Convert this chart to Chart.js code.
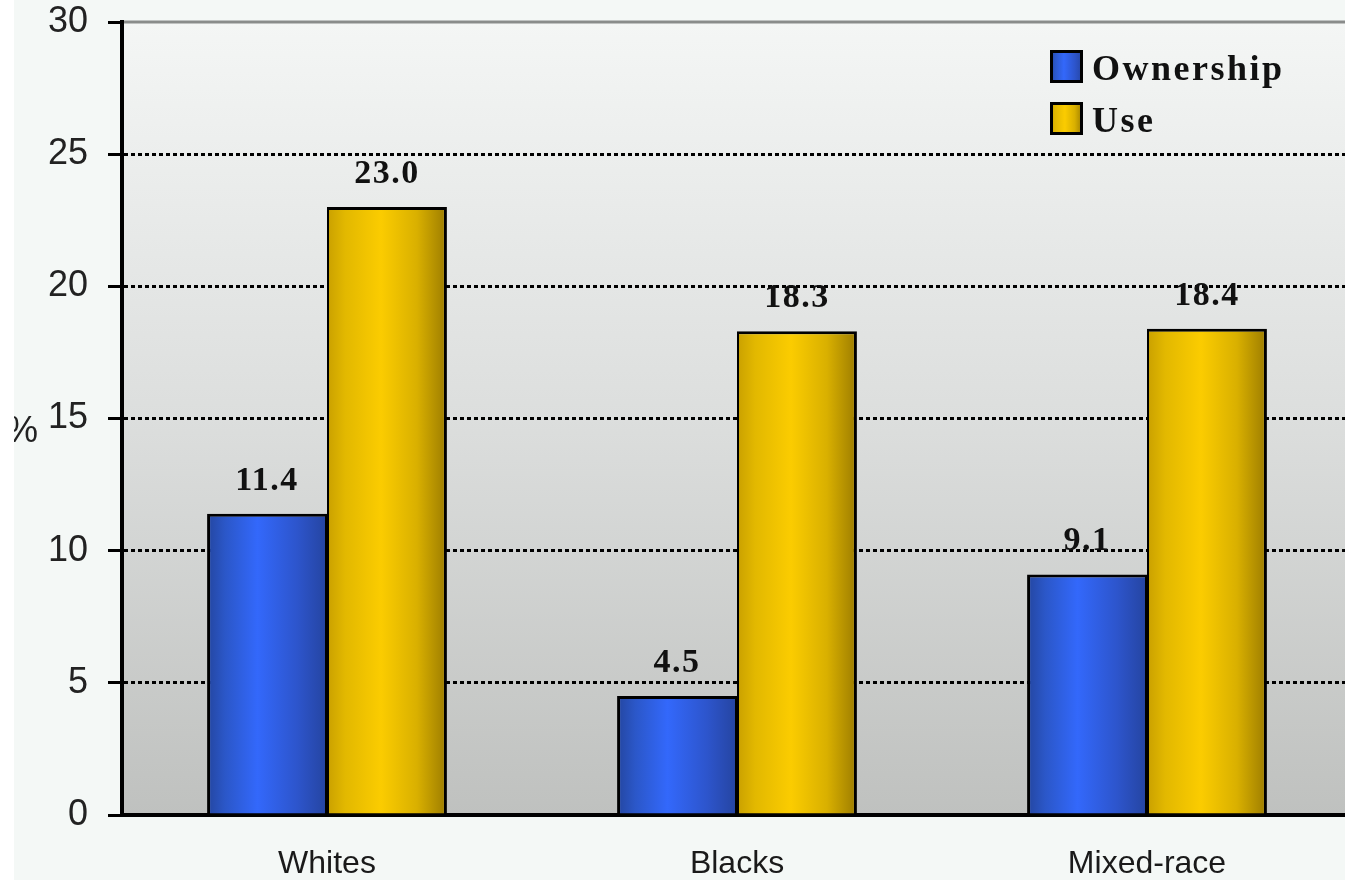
<!DOCTYPE html>
<html>
<head>
<meta charset="utf-8">
<script src="https://cdn.jsdelivr.net/npm/chart.js@4.4.1/dist/chart.umd.min.js"></script>
<style>
  html, body { margin: 0; padding: 0; background: #ffffff; overflow: hidden; }
  #chart { display: block; }
</style>
</head>
<body>
<canvas id="chart" width="1360" height="880"></canvas>
<script>
// categories along the x axis
let categories = ['Whites', 'Blacks', 'Mixed-race']
// series names (legend)
let seriesNames = ['Ownership', 'Use']
// percent values
let ownership = [11.4, 4.5, 9.1]
let use = [23.0, 18.3, 18.4]
// y axis
let yMin = 0
let yMax = 30
let yStep = 5
let yTitle = '%'

// bar shading, left to right
let blueStops = [[0, '#2446a0'], [0.15, '#2b57c8'], [0.42, '#3368fb'], [0.75, '#2d55cc'], [1, '#2544a0']]
let goldStops = [[0, '#c9a000'], [0.15, '#e2b800'], [0.45, '#fbcc00'], [0.75, '#d9b000'], [1, '#9c7c00']]
let catPct = 0.585

let elCanvas = document.getElementById('chart')
let ctx = elCanvas.getContext('2d')

// gradient for each bar, taken from the x scale position
function barFill(context) {
    let stops = context.datasetIndex === 0 ? blueStops : goldStops
    let chart = context.chart
    let xs = chart.scales && chart.scales.x
    if (!xs || context.dataIndex === undefined || !chart.chartArea) return stops[2][1]
    let center = xs.getPixelForValue(context.dataIndex)
    let w = xs.width / categories.length * catPct / 2
    let left = center - w + context.datasetIndex * w
    let g = chart.ctx.createLinearGradient(left, 0, left + w, 0)
    stops.forEach(s => g.addColorStop(s[0], s[1]))
    return g
}

// page and plot background
let backdrop = {
    id: 'backdrop',
    beforeDraw(chart) {
        let c = chart.ctx
        let a = chart.chartArea
        c.save()
        c.fillStyle = '#f4f8f6'
        c.fillRect(0, 0, chart.width, chart.height)
        let g = c.createLinearGradient(0, a.top, 0, a.bottom)
        g.addColorStop(0, '#f4f6f5')
        g.addColorStop(0.5, '#dcdedd')
        g.addColorStop(1, '#bfc1bf')
        c.fillStyle = g
        c.fillRect(a.left, a.top, a.right - a.left, a.bottom - a.top)
        // top edge of the plot
        c.strokeStyle = '#8a8c8b'
        c.lineWidth = 3
        c.beginPath()
        c.moveTo(a.left, a.top)
        c.lineTo(a.right, a.top)
        c.stroke()
        c.restore()
    },
    afterDraw(chart) {
        let c = chart.ctx
        c.save()
        // y axis title, clipped by the white strip on the left
        c.font = '36px "Liberation Sans", Arial, sans-serif'
        c.fillStyle = '#222'
        c.textAlign = 'center'
        c.textBaseline = 'middle'
        c.fillText(yTitle, 22, 432)
        c.fillStyle = '#ffffff'
        c.fillRect(0, 0, 14, chart.height)
        c.restore()
    }
}

// value labels above bars
let valueLabels = {
    id: 'valueLabels',
    afterDatasetsDraw(chart) {
        let c = chart.ctx
        c.save()
        c.font = 'bold 34px "Liberation Serif", "Times New Roman", serif'
        c.letterSpacing = '1.5px'
        c.fillStyle = '#111'
        c.textAlign = 'center'
        c.textBaseline = 'alphabetic'
        chart.data.datasets.forEach((ds, i) => {
            chart.getDatasetMeta(i).data.forEach((el, j) => {
                c.fillText(ds.data[j].toFixed(1), el.x, el.y - 24)
            })
        })
        c.restore()
    }
}

// legend in the top right corner
let cornerLegend = {
    id: 'cornerLegend',
    afterDraw(chart) {
        let c = chart.ctx
        c.save()
        seriesNames.forEach((name, i) => {
            let x = 1050
            let y = 50 + i * 52
            let stops = i === 0 ? blueStops : goldStops
            let g = c.createLinearGradient(x, 0, x + 33, 0)
            stops.forEach(s => g.addColorStop(s[0], s[1]))
            c.fillStyle = g
            c.fillRect(x, y, 33, 33)
            c.strokeStyle = '#000'
            c.lineWidth = 3
            c.strokeRect(x + 1.5, y + 1.5, 30, 30)
            c.font = 'bold 36px "Liberation Serif", "Times New Roman", serif'
            c.letterSpacing = '2.5px'
            c.fillStyle = '#111'
            c.textAlign = 'left'
            c.textBaseline = 'alphabetic'
            c.fillText(name, x + 42, y + 30)
        })
        c.restore()
    }
}

new Chart(ctx, {
    type: 'bar',
    data: {
        labels: categories,
        datasets: [
            {
                label: seriesNames[0],
                data: ownership,
                backgroundColor: barFill,
                borderColor: '#000',
                borderWidth: {top: 3, left: 3, right: 2, bottom: 0},
                borderSkipped: false
            },
            {
                label: seriesNames[1],
                data: use,
                backgroundColor: barFill,
                borderColor: '#000',
                borderWidth: {top: 3, left: 2, right: 3, bottom: 0},
                borderSkipped: false
            }
        ]
    },
    options: {
        responsive: false,
        animation: false,
        layout: { padding: { top: 22, right: 8, left: 0, bottom: 0 } },
        datasets: { bar: { barPercentage: 1, categoryPercentage: catPct } },
        plugins: {
            legend: { display: false },
            tooltip: { enabled: false }
        },
        scales: {
            x: {
                grid: { display: false, drawTicks: false },
                border: { display: true, color: '#000', width: 4 },
                ticks: {
                    color: '#1a1a1a',
                    padding: 30,
                    font: { family: '"Liberation Sans", Arial, sans-serif', size: 32 }
                },
                afterFit(scale) { scale.height = 65 }
            },
            y: {
                min: yMin,
                max: yMax,
                ticks: {
                    stepSize: yStep,
                    color: '#222',
                    padding: 20,
                    font: { family: '"Liberation Sans", Arial, sans-serif', size: 36 }
                },
                grid: {
                    color: c => (c.tick && (c.tick.value === yMax || c.tick.value === yMin)) ? 'rgba(0,0,0,0)' : '#000',
                    tickColor: '#000',
                    lineWidth: 3,
                    tickLength: 14
                },
                border: { display: true, color: '#000', width: 4, dash: [4, 3] },
                afterFit(scale) {
                    scale.width = 122
                    scale.paddingTop = 0
                    scale.paddingBottom = 0
                }
            }
        }
    },
    plugins: [backdrop, valueLabels, cornerLegend]
})
</script>
</body>
</html>
